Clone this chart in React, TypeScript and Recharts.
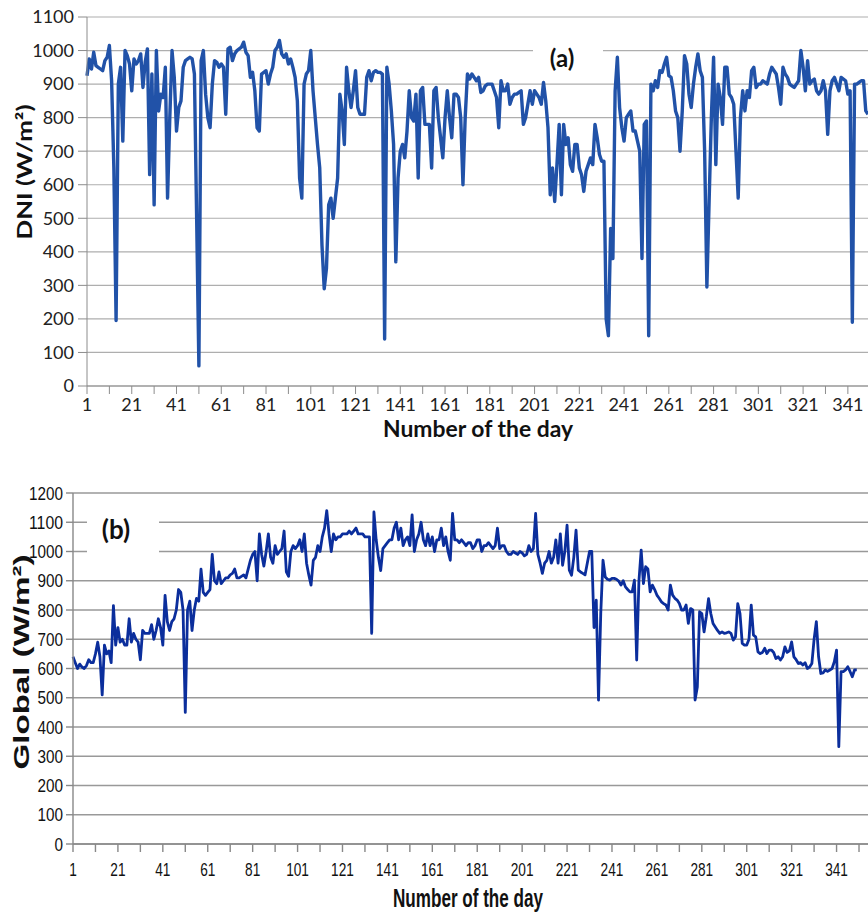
import { LineChart, Line, XAxis, YAxis, CartesianGrid } from 'recharts';

// daily mean DNI, days 1-350 (W/m2)
const dni = [
  925, 975, 945, 995, 955, 950, 945, 940, 970, 980,
  1015, 910, 650, 195, 900, 950, 730, 1000, 985, 960,
  880, 975, 960, 970, 990, 890, 965, 1005, 630, 930,
  540, 1000, 820, 870, 860, 950, 560, 800, 1000, 920,
  760, 830, 850, 950, 970, 975, 980, 975, 930, 500,
  60, 970, 1000, 870, 800, 770, 900, 970, 965, 950,
  960, 950, 810, 1005, 1010, 970, 990, 1000, 1005, 1010,
  1025, 995, 985, 920, 935, 880, 770, 760, 930, 935,
  940, 900, 930, 950, 1000, 1010, 1030, 990, 980, 990,
  960, 975, 950, 920, 850, 620, 560, 900, 930, 940,
  1000, 880, 800, 720, 650, 420, 290, 350, 540, 560,
  500, 560, 620, 870, 820, 720, 950, 880, 830, 880,
  940, 830, 810, 810, 810, 920, 940, 910, 935, 940,
  935, 935, 930, 140, 950, 900, 820, 720, 370, 620,
  700, 720, 680, 760, 880, 800, 790, 870, 620, 880,
  890, 780, 780, 780, 650, 880, 890, 800, 740, 680,
  800, 880, 800, 740, 870, 870, 860, 800, 600, 800,
  930, 915, 930, 920, 910, 920, 875, 880, 895, 900,
  900, 900, 880, 860, 770, 910, 880, 880, 900, 840,
  860, 870, 870, 875, 880, 780, 800, 840, 880, 840,
  880, 870, 860, 840, 905, 850, 770, 570, 650, 550,
  660, 780, 570, 780, 720, 740, 660, 640, 720, 720,
  650, 630, 580, 640, 660, 680, 660, 780, 740, 690,
  670, 670, 200, 150, 470, 380, 880, 980, 830, 770,
  730, 800, 810, 820, 760, 760, 730, 700, 380, 780,
  790, 150, 900, 880, 910, 890, 940, 935, 960, 980,
  925, 920, 880, 820, 800, 700, 820, 985, 960, 870,
  830, 900, 950, 990, 940, 920, 700, 295, 550, 800,
  980, 660, 900, 860, 780, 950, 950, 870, 860, 840,
  700, 560, 800, 880, 820, 880, 860, 940, 950, 890,
  900, 900, 910, 905, 900, 930, 950, 940, 930, 890,
  840, 950, 930, 920, 900, 895, 890, 900, 910, 1000,
  950, 880, 970, 900, 910, 915, 880, 870, 880, 910,
  880, 750, 880, 910, 920, 900, 880, 920, 915, 910,
  870, 880, 190, 900, 900, 905, 910, 910, 820, 810,
];

// daily mean global irradiance, days 1-350 (W/m2)
const globalIrr = [
  640, 620, 600, 615, 605, 600, 610, 630, 620, 620,
  650, 690, 640, 510, 680, 650, 660, 620, 815, 680,
  740, 690, 700, 680, 680, 770, 690, 720, 700, 690,
  630, 730, 720, 720, 720, 750, 700, 730, 770, 740,
  680, 850, 760, 730, 760, 770, 800, 870, 860, 800,
  450, 800, 830, 730, 800, 840, 830, 940, 860, 850,
  860, 870, 990, 900, 890, 930, 890, 900, 910, 910,
  920, 925, 940, 910, 910, 915, 920, 910, 940, 970,
  990, 1000, 900, 1060, 990, 950, 1000, 1060, 980, 960,
  1020, 990, 1000, 1010, 1070, 930, 915, 1000, 1020, 1010,
  1020, 1040, 1000, 1060, 960, 920, 885, 970, 980, 1020,
  1000, 1050, 1080, 1140, 1060, 1000, 1060, 1040, 1050, 1050,
  1060, 1060, 1060, 1070, 1060, 1070, 1080, 1060, 1060, 1060,
  1050, 1050, 1050, 720, 1135, 1040, 980, 935, 1010, 1020,
  1030, 1040, 1040, 1080, 1100, 1040, 1080, 1020, 1040, 1050,
  1020, 1125, 1000, 1040, 1060, 1100, 1040, 1020, 1060, 1020,
  1050, 1000, 1040, 1040, 1080, 1020, 1050, 1000, 970, 1130,
  1040, 1040, 1030, 1040, 1030, 1020, 1030, 1030, 1010, 1020,
  1040, 1040, 1000, 1020, 1020, 1030, 1020, 1010, 1020, 1080,
  1010, 1020, 1020, 1000, 990, 990, 1000, 995, 990, 1000,
  995, 985, 990, 1020, 1000, 1010, 1130, 990, 960, 925,
  960, 970, 1000, 960, 980, 1040, 960, 1060, 953, 1000,
  1090, 936, 919, 980, 1073, 936, 930, 925, 920, 960,
  1000, 1000, 740, 834, 492, 788, 970, 913, 905, 902,
  908, 908, 905, 899, 885, 900, 879, 870, 862, 862,
  902, 629, 900, 1005, 890, 948, 940, 862, 885, 870,
  851, 840, 828, 822, 817, 800, 885, 851, 840, 834,
  822, 800, 800, 817, 754, 805, 800, 492, 537, 794,
  788, 725, 777, 839, 788, 754, 742, 730, 720, 725,
  720, 722, 725, 720, 697, 708, 822, 788, 686, 680,
  680, 700, 817, 714, 708, 657, 651, 655, 669, 651,
  663, 663, 655, 634, 640, 629, 640, 674, 655, 660,
  691, 640, 630, 617, 620, 612, 620, 600, 605, 617,
  700, 760, 640, 583, 585, 595, 590, 595, 600, 623,
  663, 333, 589, 589, 595, 606, 590, 572, 595, 595,
];

const dayTicks = [
  1, 11, 21, 31, 41, 51, 61, 71, 81, 91, 101, 111, 121, 131, 141, 151, 161, 171,
  181, 191, 201, 211, 221, 231, 241, 251, 261, 271, 281, 291, 301, 311, 321, 331, 341, 351,
];
const dayLabels = [1, 21, 41, 61, 81, 101, 121, 141, 161, 181, 201, 221, 241, 261, 281, 301, 321, 341];
const dniTicks = [0, 100, 200, 300, 400, 500, 600, 700, 800, 900, 1000, 1100];
const globalTicks = [0, 100, 200, 300, 400, 500, 600, 700, 800, 900, 1000, 1100, 1200];

const dniData = dni.map((v, i) => ({ day: i + 1, dni: v }));
const globalData = globalIrr.map((v, i) => ({ day: i + 1, global: v }));

const lato = 'Lato, "Open Sans", sans-serif';
const narrow = '"Liberation Sans Narrow", "Liberation Sans", Arial, sans-serif';

function NarrowYTick({ x, y, payload }: any) {
  const s = String(payload.value);
  return (
    <text x={x} y={y} textAnchor="end" dominantBaseline="central" fontFamily={narrow} fontSize={19}
      fill="#111" textLength={s.length * 8.5} lengthAdjust="spacingAndGlyphs">{s}</text>
  );
}

function NarrowXTick({ x, y, payload }: any) {
  if (!dayLabels.includes(payload.value)) return <g />;
  const s = String(payload.value);
  return (
    <text x={x} y={y} dy="0.75em" textAnchor="middle" fontFamily={narrow} fontSize={19}
      fill="#111" textLength={s.length * 7.6} lengthAdjust="spacingAndGlyphs">{s}</text>
  );
}

export default function App() {
  return (
    <div style={{ position: 'absolute', left: 0, top: 0, width: 868, height: 916, background: '#fff', overflow: 'hidden' }}>
      <div style={{ position: 'absolute', left: 0, top: 0 }}>
        <LineChart width={868} height={440} data={dniData} margin={{ top: 17, right: 0, left: 0, bottom: 24 }}>
          <CartesianGrid vertical={false} stroke="#aeaeae" strokeWidth={1.2} />
          <XAxis
            dataKey="day"
            type="number"
            domain={[1, 350]}
            ticks={dayTicks.filter((t) => t <= 350)}
            interval={0}
            tickFormatter={(v) => (dayLabels.includes(v) ? String(v) : '')}
            tickSize={8}
            tickMargin={4}
            height={30}
            stroke="#8c8c8c"
            tick={{ fontSize: 18, fill: '#222', fontFamily: lato }}
          />
          <YAxis
            domain={[0, 1100]}
            ticks={dniTicks}
            interval={0}
            width={87}
            tickSize={9}
            tickMargin={4}
            stroke="#8c8c8c"
            tick={{ fontSize: 18, fill: '#222', fontFamily: lato }}
          />
          <Line dataKey="dni" stroke="#2152a8" strokeWidth={3.4} dot={false} strokeLinejoin="round" isAnimationActive={false} />
        </LineChart>
      </div>

      <div style={{ position: 'absolute', left: 0, top: 470 }}>
        <LineChart width={868} height={446} data={globalData} margin={{ top: 23, right: 0, left: 0, bottom: 42 }}>
          <CartesianGrid vertical={false} stroke="#999" strokeWidth={1.6} />
          <XAxis
            dataKey="day"
            type="number"
            domain={[1, 355]}
            ticks={dayTicks}
            interval={0}
            tickSize={8}
            tickMargin={10}
            height={30}
            stroke="#888"
            strokeWidth={1.4}
            tick={<NarrowXTick />}
          />
          <YAxis
            domain={[0, 1200]}
            ticks={globalTicks}
            interval={0}
            width={73}
            tickSize={7}
            tickMargin={3}
            stroke="#888"
            strokeWidth={1.4}
            tick={<NarrowYTick />}
          />
          <Line dataKey="global" stroke="#0b2e9c" strokeWidth={2.8} dot={false} strokeLinejoin="round" isAnimationActive={false} />
        </LineChart>
      </div>

      <svg width={868} height={916} style={{ position: 'absolute', left: 0, top: 0, pointerEvents: 'none' }}>
        <rect x={533} y={37} width={70} height={38} fill="#fff" />
        <text x={562} y={57} textAnchor="middle" dominantBaseline="central" fontFamily={lato} fontWeight="bold" fontSize={24} fill="#111">(a)</text>
        <text x={478} y={437} textAnchor="middle" fontFamily={lato} fontWeight="bold" fontSize={22} fill="#111"
          textLength={190} lengthAdjust="spacingAndGlyphs">Number of the day</text>
        <text transform="translate(32,172) rotate(-90)" textAnchor="middle" fontFamily={lato} fontWeight="bold" fontSize={21}
          fill="#111" textLength={135} lengthAdjust="spacingAndGlyphs">DNI (W/m²)</text>

        <rect x={87} y={509} width={72} height={46} fill="#fff" />
        <text x={116} y={529} textAnchor="middle" dominantBaseline="central" fontFamily={lato} fontWeight="bold" fontSize={26} fill="#111">(b)</text>
        <text x={468} y={907} textAnchor="middle" fontFamily={narrow} fontWeight="bold" fontSize={25} fill="#111"
          textLength={150} lengthAdjust="spacingAndGlyphs">Number of the day</text>
        <text transform="translate(29,662) rotate(-90)" textAnchor="middle" fontFamily='"Liberation Sans", Arial, sans-serif'
          fontWeight="bold" fontSize={22} fill="#111" textLength={215} lengthAdjust="spacingAndGlyphs">Global (W/m²)</text>
      </svg>
    </div>
  );
}
